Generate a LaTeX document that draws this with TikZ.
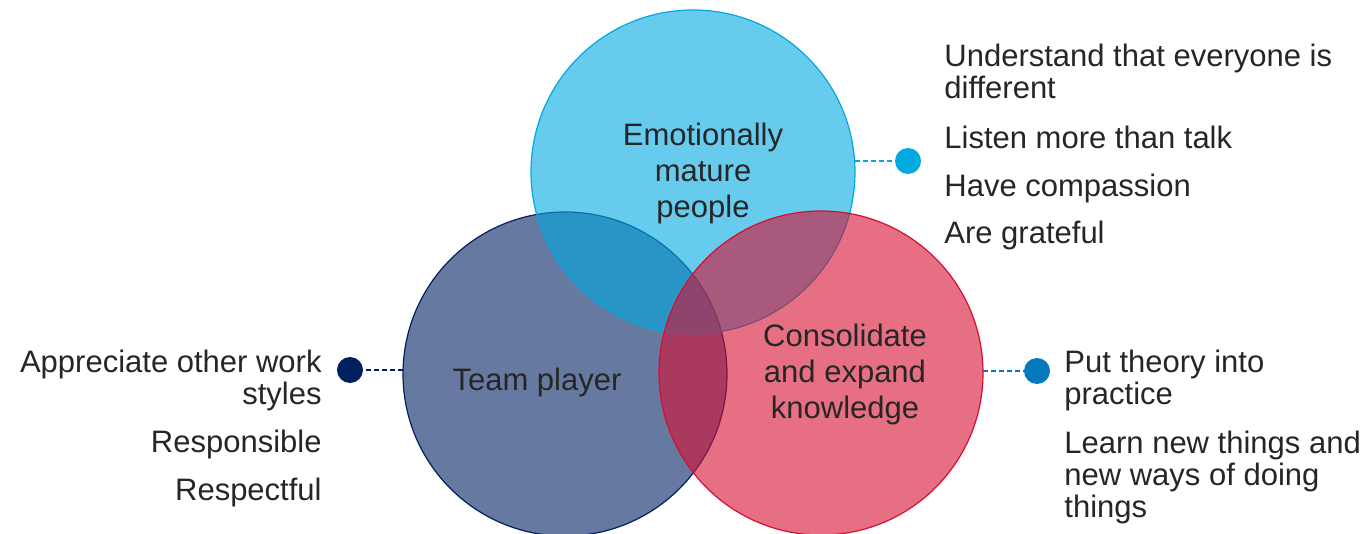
\documentclass[tikz,border=0pt]{standalone}
\usepackage{fontspec}
\setmainfont{Liberation Sans}
\definecolor{skyblue}{RGB}{0,169,224}
\definecolor{navyblue}{RGB}{0,32,96}
\definecolor{rubyred}{RGB}{213,15,50}
\definecolor{midblue}{RGB}{5,120,190}
\definecolor{textgray}{RGB}{38,38,38}
\tikzset{
	venn/.style={circle, minimum size=162pt, inner sep=0pt, fill opacity=0.6, draw opacity=1, line width=0.6pt},
	vennlabel/.style={align=center, inner sep=0pt, text=textgray, font=\fontsize{15.5}{18}\selectfont},
	dot/.style={circle, minimum size=13pt, inner sep=0pt},
	link/.style={line width=1.1pt, dash pattern=on 2.5pt off 1.5pt},
	item/.style={inner sep=0pt, text=textgray, font=\fontsize{15.5}{16}\selectfont},
}
\begin{document}
\begin{tikzpicture}[x=0.5pt,y=-0.5pt]
	\useasboundingbox (0,0) rectangle (1371,534);
	% the three circles
	\node[venn, fill=navyblue, draw=navyblue] (team) at (565,374) {};
	\node[venn, fill=skyblue, draw=skyblue] (emo) at (693,172) {};
	\node[venn, fill=rubyred, draw=rubyred] (know) at (821,373) {};
	% circle texts
	\node[vennlabel] (emolabel) at (703,173) {Emotionally\\mature\\people};
	\node[vennlabel] (teamlabel) at (537,382) {Team player};
	\node[vennlabel] (knowlabel) at (845,374) {Consolidate\\and expand\\knowledge};
	% dots and dashed links
	\node[dot, fill=skyblue] (emodot) at (908,161) {};
	\node[dot, fill=navyblue] (teamdot) at (350,370) {};
	\node[dot, fill=midblue] (knowdot) at (1037,371) {};
	\coordinate (emoedge) at (855,161);
	\coordinate (teamedge) at (403,370);
	\coordinate (knowedge) at (983,371);
	\draw[link, skyblue] (emoedge) -- (emodot);
	\draw[link, navyblue] (teamedge) -- (teamdot);
	\draw[link, midblue] (knowedge) -- (knowdot);
	% lists (base = last line)
	\node[item, align=left, anchor=base west] (emoitema) at (944,99) {Understand that everyone is\\different};
	\node[item, anchor=base west] (emoitemb) at (944,149) {Listen more than talk};
	\node[item, anchor=base west] (emoitemc) at (944,197) {Have compassion};
	\node[item, anchor=base west] (emoitemd) at (944,244) {Are grateful};
	\node[item, align=right, anchor=base east] (teamitema) at (322,404) {Appreciate other work\\styles};
	\node[item, anchor=base east] (teamitemb) at (322,452) {Responsible};
	\node[item, anchor=base east] (teamitemc) at (322,500) {Respectful};
	\node[item, align=left, anchor=base west] (knowitema) at (1064,404) {Put theory into\\practice};
	\node[item, align=left, anchor=base west] (knowitemb) at (1064,517) {Learn new things and\\new ways of doing\\things};
\end{tikzpicture}
\end{document}
